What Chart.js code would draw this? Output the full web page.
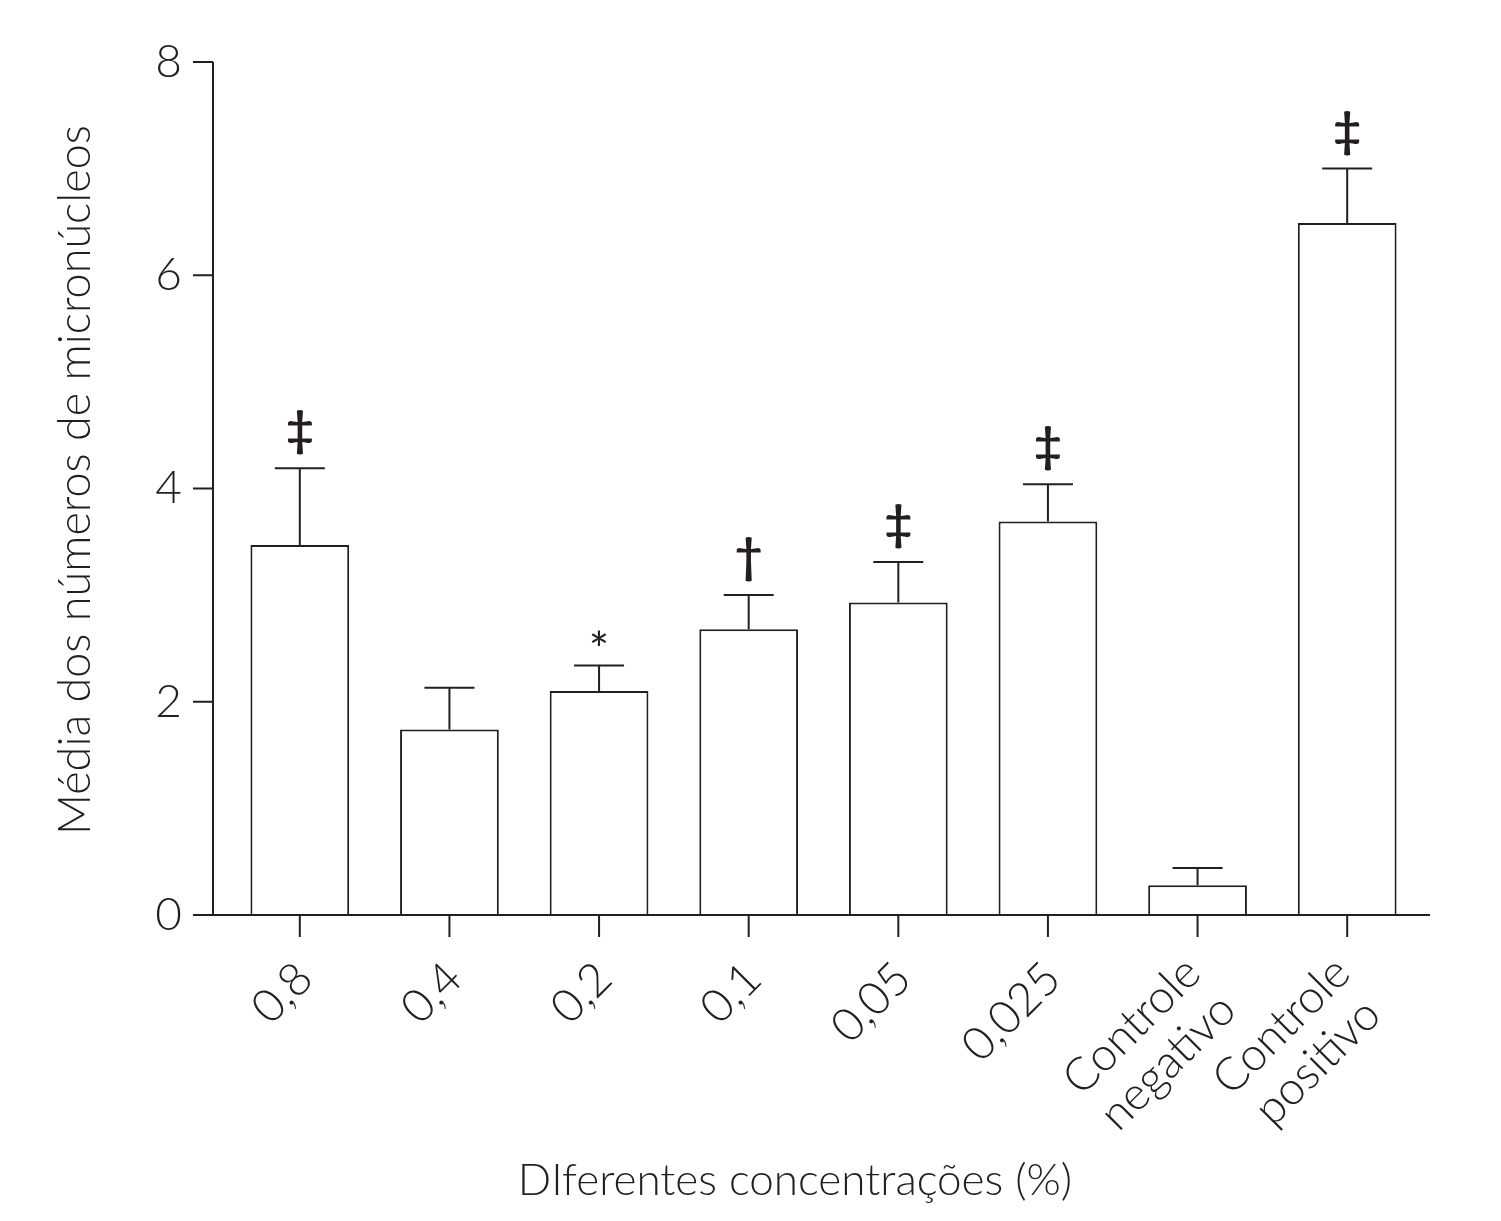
<!DOCTYPE html>
<html>
<head>
<meta charset="utf-8">
<script src="https://cdn.jsdelivr.net/npm/chart.js@4.4.1/dist/chart.umd.min.js"></script>
<style>
  html, body { margin:0; padding:0; background:#fff; }
  canvas { display:block; }
</style>
</head>
<body>
<canvas id="c" width="1501" height="1221"></canvas>
<script>
// data
const categories = ["0,8", "0,4", "0,2", "0,1", "0,05", "0,025", ["Controle","negativo"], ["Controle","positivo"]];
const means  = [3.47, 1.74, 2.10, 2.68, 2.93, 3.69, 0.28, 6.49];
const errors = [0.72, 0.39, 0.24, 0.32, 0.38, 0.35, 0.16, 0.51];
const marks  = ["‡", "", "*", "†", "‡", "‡", "", "‡"];
const yTicks = [0, 2, 4, 6, 8];
const yTitle = "Média dos números de micronúcleos";
const xTitle = "DIferentes concentrações (%)";

const INK = "#231f20";
const FONT = "Lato, 'Noto Sans', sans-serif";

// axes, x labels, error bars, significance marks, titles
const decorations = {
  id: "decorations",
  afterDatasetsDraw(chart){
    const ctx = chart.ctx;
    const xs = chart.scales.x, ys = chart.scales.y;
    const area = chart.chartArea;
    const axisX = area.left - 12;
    const y0 = ys.getPixelForValue(0);
    ctx.save();
    ctx.strokeStyle = INK;
    ctx.fillStyle = INK;
    ctx.lineWidth = 2;

    // y axis + ticks
    ctx.beginPath();
    ctx.moveTo(axisX, ys.getPixelForValue(yTicks[yTicks.length-1]));
    ctx.lineTo(axisX, y0);
    for (const v of yTicks){
      const py = ys.getPixelForValue(v);
      ctx.moveTo(axisX - 20, py);
      ctx.lineTo(axisX, py);
    }
    // x axis + ticks
    ctx.moveTo(axisX - 20, y0);
    ctx.lineTo(area.right + 8, y0);
    for (let i=0;i<categories.length;i++){
      const px = xs.getPixelForValue(i);
      ctx.moveTo(px, y0);
      ctx.lineTo(px, y0 + 22);
    }
    ctx.stroke();

    // rotated category labels (multi-line ones centred in their block)
    ctx.font = "300 46px " + FONT;
    ctx.textBaseline = "middle";
    for (let i=0;i<categories.length;i++){
      const px = xs.getPixelForValue(i);
      const lines = Array.isArray(categories[i]) ? categories[i] : [categories[i]];
      ctx.save();
      ctx.translate(px + 5, y0 + 56);
      ctx.rotate(-Math.PI/4);
      if (lines.length === 1){
        ctx.textAlign = "right";
        ctx.fillText(lines[0], 0, 0);
      } else {
        const w = Math.max(...lines.map(l => ctx.measureText(l).width));
        ctx.textAlign = "center";
        lines.forEach((l, k) => ctx.fillText(l, -w/2 - 3, -11 + k*51));
      }
      ctx.restore();
    }

    // one-sided error bars
    ctx.beginPath();
    for (let i=0;i<means.length;i++){
      const px = xs.getPixelForValue(i);
      const pm = ys.getPixelForValue(means[i]);
      const pt = ys.getPixelForValue(means[i] + errors[i]);
      ctx.moveTo(px, pm);
      ctx.lineTo(px, pt);
      ctx.moveTo(px - 25, pt);
      ctx.lineTo(px + 25, pt);
    }
    ctx.stroke();

    // significance marks
    ctx.textAlign = "center";
    ctx.textBaseline = "alphabetic";
    for (let i=0;i<marks.length;i++){
      if (!marks[i]) continue;
      const px = xs.getPixelForValue(i);
      const pt = ys.getPixelForValue(means[i] + errors[i]);
      const isStar = marks[i] === "*";
      ctx.font = (isStar ? "48px " : "bold 48px ") + FONT;
      const m = ctx.measureText(marks[i]);
      const gap = isStar ? 19 : 13;
      ctx.fillText(marks[i], px, pt - gap - m.actualBoundingBoxDescent);
    }

    // axis titles
    ctx.font = "300 44px " + FONT;
    ctx.fillText(xTitle, 795, 1195);
    ctx.save();
    ctx.translate(90, 480);
    ctx.rotate(-Math.PI/2);
    ctx.font = "300 45px " + FONT;
    ctx.fillText(yTitle, 0, 0);
    ctx.restore();
    ctx.restore();
  }
};

new Chart(document.getElementById("c"), {
  type: "bar",
  data: {
    labels: categories,
    datasets: [{
      data: means,
      backgroundColor: "#ffffff",
      borderColor: INK,
      borderWidth: 2,
      barPercentage: 0.66,
      categoryPercentage: 1.0
    }]
  },
  options: {
    responsive: false,
    animation: false,
    layout: { padding: { top: 56, right: 79, left: 0, bottom: 0 } },
    plugins: { legend: { display:false }, tooltip: { enabled:false } },
    scales: {
      x: {
        grid: { display:false },
        border: { display:false },
        ticks: { display:false },
        afterFit(scale){ scale.height = 306; }
      },
      y: {
        min: 0, max: 8,
        grid: { display:false },
        border: { display:false },
        ticks: {
          stepSize: 2, padding: 35, color: INK,
          font: { family: FONT, size: 46, weight: 300, lineHeight: 1.17 }
        },
        afterFit(scale){ scale.width = 225; }
      }
    }
  },
  plugins: [decorations]
});
</script>
</body>
</html>
